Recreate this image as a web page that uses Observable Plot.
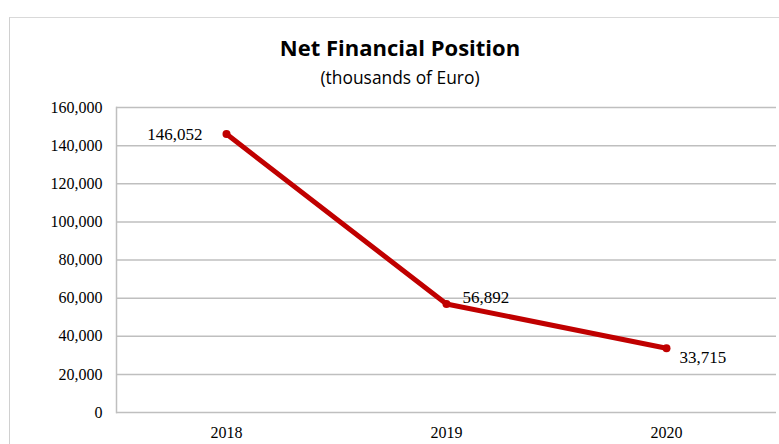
<!DOCTYPE html>
<html>
<head>
<meta charset="utf-8">
<script src="https://cdn.jsdelivr.net/npm/d3@7"></script>
<script src="https://cdn.jsdelivr.net/npm/@observablehq/plot@0.6"></script>
<style>
  html, body { margin: 0; padding: 0; background: #fff; overflow: hidden; }
  #wrap { position: relative; width: 779px; height: 444px; overflow: hidden; }
  #border { position: absolute; left: 9px; top: 17px; width: 800px; height: 500px; border-left: 1.5px solid #d0d0d0; border-top: 1.5px solid #d9d9d9; }
  #title { position: absolute; left: 0; width: 800px; top: 32px; text-align: center; font-family: "Open Sans", sans-serif; font-weight: bold; font-size: 22px; color: #000; }
  #subtitle { position: absolute; left: 0; width: 800px; top: 65px; text-align: center; font-family: "Open Sans", sans-serif; font-size: 17.4px; color: #000; }
  #chart { position: absolute; left: 0; top: 0; }
</style>
</head>
<body>
<div id="wrap">
  <div id="border"></div>
  <div id="title">Net Financial Position</div>
  <div id="subtitle">(thousands of Euro)</div>
  <div id="chart"></div>
</div>
<script>
const years = ["2018", "2019", "2020"];
const values = [146052, 56892, 33715];
const yTicks = [0, 20000, 40000, 60000, 80000, 100000, 120000, 140000, 160000];
const labelDx = [-24, 16, 13];
const labelDy = [0, -7, 9];
const labelAnchor = ["end", "start", "start"];

const data = years.map((y, i) => ({year: y, value: values[i], dx: labelDx[i], dy: labelDy[i], anchor: labelAnchor[i]}));
const fmt = d3.format(",");
const red = "#c00000";

const labelMarks = data.map(d => Plot.text([d], {
  x: "year", y: "value", text: v => fmt(v.value),
  dx: d.dx, dy: d.dy, textAnchor: d.anchor,
  fontFamily: "Liberation Serif", fontSize: 17, fill: "#000"
}));

const chart = Plot.plot({
  width: 779,
  height: 444,
  marginLeft: 116,
  marginRight: 3,
  marginTop: 107,
  marginBottom: 32,
  style: {background: "transparent", fontFamily: "Liberation Serif", fontSize: "16px", color: "#000", overflow: "visible"},
  x: {domain: years, padding: 0, align: 0.5, label: null, type: "band"},
  y: {domain: [0, 160000], label: null},
  marks: [
    Plot.ruleY(yTicks, {stroke: "#bfbfbf", strokeWidth: 1.5}),
    Plot.frame({anchor: "left", stroke: "#bfbfbf", strokeWidth: 1.5}),
    Plot.axisY({ticks: yTicks, tickFormat: fmt, tickSize: 0, tickPadding: 14, fontSize: 16, fontFamily: "Liberation Serif", label: null}),
    Plot.axisX({tickSize: 0, tickPadding: 14, fontSize: 16, fontFamily: "Liberation Serif", label: null}),
    Plot.line(data, {x: "year", y: "value", stroke: red, strokeWidth: 5, strokeLinejoin: "round"}),
    Plot.dot(data, {x: "year", y: "value", r: 4, fill: red, stroke: "none"}),
    ...labelMarks
  ]
});
document.getElementById("chart").appendChild(chart);
</script>
</body>
</html>
